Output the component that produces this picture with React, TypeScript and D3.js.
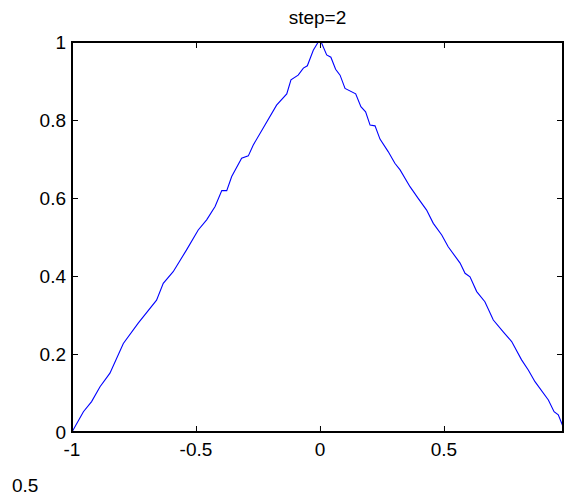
import React, { useEffect } from 'react';
import * as d3 from 'd3';

// curve (x, y)
const xs = [
  -1.0, -0.954, -0.921, -0.887, -0.847, -0.793, -0.733, -0.659, -0.632, -0.592,
  -0.538, -0.491, -0.457, -0.423, -0.396, -0.376, -0.356, -0.316, -0.289, -0.269,
  -0.175, -0.134, -0.117, -0.088, -0.067, -0.051, -0.027, -0.007, 0.003, 0.007,
  0.027, 0.044, 0.063, 0.081, 0.101, 0.144, 0.165, 0.184, 0.202, 0.222,
  0.242, 0.275, 0.302, 0.323, 0.363, 0.396, 0.43, 0.457, 0.491, 0.517,
  0.565, 0.585, 0.605, 0.632, 0.665, 0.699, 0.739, 0.773, 0.813, 0.84,
  0.867, 0.921, 0.944, 0.961, 0.98,
];
const ys = [
  0.0, 0.052, 0.078, 0.116, 0.151, 0.227, 0.279, 0.338, 0.381, 0.411,
  0.467, 0.518, 0.544, 0.578, 0.619, 0.619, 0.655, 0.702, 0.708, 0.736,
  0.838, 0.867, 0.903, 0.915, 0.933, 0.939, 0.979, 1.0, 1.0, 0.997,
  0.967, 0.961, 0.93, 0.915, 0.881, 0.867, 0.834, 0.821, 0.787, 0.785,
  0.751, 0.719, 0.689, 0.672, 0.629, 0.599, 0.569, 0.535, 0.505, 0.475,
  0.433, 0.407, 0.398, 0.36, 0.334, 0.287, 0.257, 0.232, 0.185, 0.159,
  0.129, 0.082, 0.052, 0.044, 0.014,
];
const xTicks = [-1, -0.5, 0, 0.5];
const yTicks = [0, 0.2, 0.4, 0.6, 0.8, 1];
const title = 'step=2';
const strayLabel = '0.5';

const W = 564;
const H = 496;
const left = 72, right = 563, top = 42, bottom = 432;
const font = '"Liberation Sans", Arial, sans-serif';
const fs = 19;

export default function App() {
  useEffect(() => {
    document.body.style.margin = '0';
  }, []);

  const x = d3.scaleLinear().domain([-1, 0.98]).range([left, right]);
  const y = d3.scaleLinear().domain([0, 1]).range([bottom, top]);
  const pts: [number, number][] = xs.map((v, i) => [v, ys[i]]);
  const line = d3.line<[number, number]>()
    .x(d => x(d[0]))
    .y(d => y(d[1]));

  const fmt = (v: number) => String(v);

  return (
    <svg width={W} height={H} style={{ display: 'block', background: '#fff' }}>
      <rect x={0} y={0} width={W} height={H} fill="#fff" />
      {/* ticks */}
      {xTicks.map(t => (
        <g key={'x' + t}>
          <line x1={x(t) + 0.5} x2={x(t) + 0.5} y1={bottom} y2={bottom - 6} stroke="#000" strokeWidth={1} />
          <line x1={x(t) + 0.5} x2={x(t) + 0.5} y1={top} y2={top + 6} stroke="#000" strokeWidth={1} />
          <text x={x(t)} y={456} textAnchor="middle" fontFamily={font} fontSize={fs} fill="#000">{fmt(t)}</text>
        </g>
      ))}
      {yTicks.map(t => (
        <g key={'y' + t}>
          <line x1={left} x2={left + 6} y1={y(t) + 0.5} y2={y(t) + 0.5} stroke="#000" strokeWidth={1} />
          <line x1={right} x2={right - 6} y1={y(t) + 0.5} y2={y(t) + 0.5} stroke="#000" strokeWidth={1} />
          <text x={66} y={y(t)} dy="0.36em" textAnchor="end" fontFamily={font} fontSize={fs} fill="#000">{fmt(t)}</text>
        </g>
      ))}
      {/* data */}
      <path d={line(pts) ?? ''} fill="none" stroke="#0000ff" strokeWidth={1.1} />
      {/* box */}
      <rect x={left} y={top} width={right - left} height={bottom - top} fill="none" stroke="#000" strokeWidth={2} />
      <text x={(left + right) / 2} y={24} textAnchor="middle" fontFamily={font} fontSize={fs} fill="#000">{title}</text>
      <text x={12} y={492} fontFamily={font} fontSize={fs} fill="#000">{strayLabel}</text>
    </svg>
  );
}
